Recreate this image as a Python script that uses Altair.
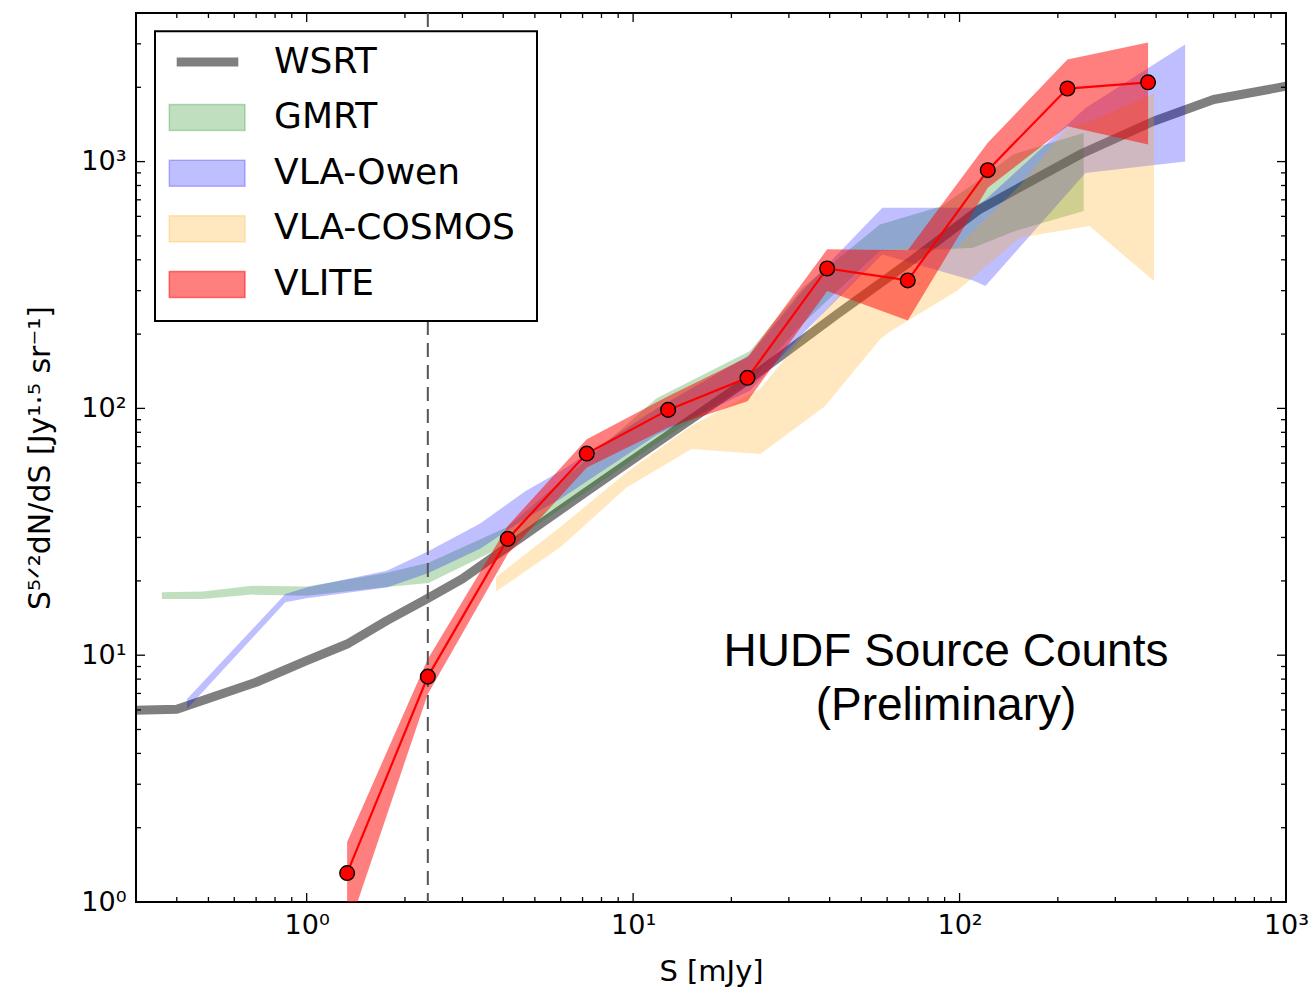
import altair as alt
import pandas as pd

# ---- source-count data (S in mJy, Euclidean-normalised counts) ----
wsrt_s = [0.30, 0.40, 0.70, 1.0, 1.33, 1.76, 2.33, 3.0, 4.1, 7.2, 13, 23, 42, 70, 115, 234, 393, 600, 1000]
wsrt_n = [5.98, 6.04, 7.77, 9.5, 11.1, 13.8, 16.9, 20.4, 27.3, 46, 79, 133, 240, 390, 640, 1069, 1457, 1784, 2019]

gmrt_s = [0.36, 0.48, 0.68, 1.0, 1.76, 2.36, 4.1, 7.2, 11.8, 22.8, 33, 57, 88, 110, 146, 240]
gmrt_lo = [16.9, 16.9, 17.6, 17.4, 18.9, 19.6, 28, 46, 72, 128, 220, 434, 440, 448, 520, 630]
gmrt_hi = [18.0, 18.1, 19.1, 19.0, 21.6, 23.7, 33, 62, 110, 171, 308, 556, 660, 810, 1069, 1307]

owen_s = [0.43, 0.86, 1.0, 1.76, 2.35, 3.4, 4.7, 6.0, 11.8, 22.8, 33, 58, 110, 120, 243, 491]
owen_lo = [6.05, 16.4, 17.0, 18.8, 21.5, 27, 36, 43, 78, 118, 200, 420, 330, 313, 900, 1000]
owen_hi = [6.65, 17.7, 18.8, 22.0, 26.3, 34.2, 46.4, 55.8, 100, 165, 300, 650, 650, 700, 1649, 2978]

cosmos_s = [3.8, 5.97, 9.55, 15.1, 24.5, 38.7, 57, 60.6, 98, 153, 213, 250, 394]
cosmos_lo = [18.1, 27.3, 47.8, 68.4, 65.3, 102, 190, 203, 299, 491, 530, 548, 328]
cosmos_hi = [20.7, 33, 55, 85, 120, 250, 434, 440, 450, 800, 1370, 1450, 1886]

vlite_s = [1.33, 2.35, 4.13, 7.21, 12.8, 22.4, 39.3, 69.4, 122, 214, 378]
vlite_n = [1.31, 8.19, 29.6, 65.6, 98.6, 133, 369, 330, 923, 1977, 2095]
vlite_lo = [0.75, 6.97, 25.7, 57.6, 83.6, 107, 299, 227, 783, 1390, 1173]
vlite_hi = [1.75, 9.66, 33.4, 75, 112, 161, 441, 437, 1191, 2590, 3041]

# completeness limit
limit_s = [2.35]

# axis ticks
major_vals = [1, 10, 100, 1000]
x_minor_vals = [0.3, 0.4, 0.5, 0.6, 0.7, 0.8, 0.9,
                2, 3, 4, 5, 6, 7, 8, 9,
                20, 30, 40, 50, 60, 70, 80, 90,
                200, 300, 400, 500, 600, 700, 800, 900]
y_minor_vals = [2, 3, 4, 5, 6, 7, 8, 9,
                20, 30, 40, 50, 60, 70, 80, 90,
                200, 300, 400, 500, 600, 700, 800, 900,
                2000, 3000]

legend_names = ["WSRT", "GMRT", "VLA-Owen", "VLA-COSMOS", "VLITE"]
legend_colors = ["#000000", "#008000", "#0000ff", "#ffa500", "#ff0000"]
legend_alpha = [0.5, 0.25, 0.25, 0.25, 0.5]

W, H = 1150, 889

xscale = alt.Scale(type="log", domain=[0.3, 1000], nice=False)
yscale = alt.Scale(type="log", domain=[1, 4000], nice=False)

sup_expr = ("datum.value == 1 ? '10\u2070' : datum.value == 10 ? '10\u00b9' : "
            "datum.value == 100 ? '10\u00b2' : '10\u00b3'")

xaxis = alt.Axis(values=major_vals, labelExpr=sup_expr, ticks=False, domain=False, grid=False,
                 labelFlush=False, labelOverlap=False, labelPadding=10,
                 title="S [mJy]", titlePadding=19)
yaxis = alt.Axis(values=major_vals, labelExpr=sup_expr, ticks=False, domain=False, grid=False,
                 labelFlush=False, labelOverlap=False, labelPadding=10,
                 title="S\u2075\u141f\u00b2dN/dS [Jy\u00b9\u00b7\u2075 sr\u207b\u00b9]",
                 titlePadding=25, titleFontSize=30)


def X(field):
    return alt.X(field, type="quantitative", scale=xscale, axis=xaxis)


def Y(field):
    return alt.Y(field, type="quantitative", scale=yscale, axis=yaxis)


def band(s, lo, hi, color, alpha):
    df = pd.DataFrame({"S": s, "lo": lo, "hi": hi})
    return alt.Chart(df).mark_area(color=color, opacity=alpha, clip=True).encode(
        x=X("S"), y=Y("lo"), y2=alt.Y2("hi"))


wsrt = alt.Chart(pd.DataFrame({"S": wsrt_s, "N": wsrt_n})).mark_line(
    color="black", opacity=0.5, strokeWidth=9, clip=True, strokeJoin="round"
).encode(x=X("S"), y=Y("N"))

gmrt = band(gmrt_s, gmrt_lo, gmrt_hi, "#008000", 0.25)
owen = band(owen_s, owen_lo, owen_hi, "#0000ff", 0.25)
cosmos = band(cosmos_s, cosmos_lo, cosmos_hi, "#ffa500", 0.25)
vlite_band = band(vlite_s, vlite_lo, vlite_hi, "#ff0000", 0.5)

limit = alt.Chart(pd.DataFrame({"S": limit_s})).mark_rule(
    color="#555555", strokeWidth=2, strokeDash=[14, 8]
).encode(x=X("S"))

vdf = pd.DataFrame({"S": vlite_s, "N": vlite_n})
vlite_line = alt.Chart(vdf).mark_line(color="#ff0000", strokeWidth=2.2, clip=True).encode(
    x=X("S"), y=Y("N"))
vlite_pts = alt.Chart(vdf).mark_point(
    shape="circle", filled=True, size=215, fill="#ff0000", stroke="black",
    strokeWidth=1.4, opacity=1, clip=True
).encode(x=X("S"), y=Y("N"))


# inward-pointing ticks on all four sides
def xticks(vals, length):
    d = pd.DataFrame({"v": vals})
    bottom = alt.Chart(d).mark_rule(color="black", strokeWidth=1.3).encode(
        x=X("v"), y=alt.value(H), y2=alt.value(H - length))
    top = alt.Chart(d).mark_rule(color="black", strokeWidth=1.3).encode(
        x=X("v"), y=alt.value(0), y2=alt.value(length))
    return [bottom, top]


def yticks(vals, length):
    d = pd.DataFrame({"v": vals})
    left = alt.Chart(d).mark_rule(color="black", strokeWidth=1.3).encode(
        y=Y("v"), x=alt.value(0), x2=alt.value(length))
    right = alt.Chart(d).mark_rule(color="black", strokeWidth=1.3).encode(
        y=Y("v"), x=alt.value(W), x2=alt.value(W - length))
    return [left, right]


ticks = (xticks(major_vals, 9) + xticks(x_minor_vals, 5)
         + yticks(major_vals, 9) + yticks(y_minor_vals, 5))

# legend
one = pd.DataFrame({"k": [0]})
legend_layers = [
    alt.Chart(one).mark_rect(fill="white", stroke="black", strokeWidth=2).encode(
        x=alt.value(19), x2=alt.value(401), y=alt.value(18.3), y2=alt.value(308))
]
row0, step = 49.0, 55.6
for i, (name, col, a) in enumerate(zip(legend_names, legend_colors, legend_alpha)):
    yc = row0 + step * i
    if i == 0:
        legend_layers.append(
            alt.Chart(one).mark_rule(color=col, opacity=a, strokeWidth=9).encode(
                x=alt.value(40.7), x2=alt.value(102.3), y=alt.value(yc)))
    else:
        legend_layers.append(
            alt.Chart(one).mark_rect(fill=col, fillOpacity=a, stroke=col, strokeOpacity=a,
                                     strokeWidth=1.5).encode(
                x=alt.value(33.3), x2=alt.value(109), y=alt.value(yc - 13), y2=alt.value(yc + 13)))
    legend_layers.append(
        alt.Chart(one).mark_text(text=name, font="DejaVu Sans", fontSize=36, align="left",
                                 baseline="middle", color="black").encode(
            x=alt.value(138), y=alt.value(yc - 0.5)))

note = [
    alt.Chart(one).mark_text(text="HUDF Source Counts", font="Liberation Sans", fontSize=46,
                             align="center", baseline="middle", color="black").encode(
        x=alt.value(810), y=alt.value(639)),
    alt.Chart(one).mark_text(text="(Preliminary)", font="Liberation Sans", fontSize=46,
                             align="center", baseline="middle", color="black").encode(
        x=alt.value(810), y=alt.value(693)),
]

chart = alt.layer(
    wsrt, gmrt, owen, cosmos, vlite_band, limit, vlite_line, vlite_pts,
    *ticks, *legend_layers, *note
).properties(
    width=W, height=H,
    autosize=alt.AutoSizeParams(type="none"),
    padding={"left": 136, "top": 13, "right": 28, "bottom": 90},
).configure_view(
    stroke="black", strokeWidth=2
).configure_axis(
    labelFont="DejaVu Sans", labelFontSize=27, labelColor="black",
    titleFont="DejaVu Sans", titleFontSize=29, titleFontWeight="normal", titleColor="black"
)

chart.save("out.html", embed_options={"renderer": "svg", "actions": False})
